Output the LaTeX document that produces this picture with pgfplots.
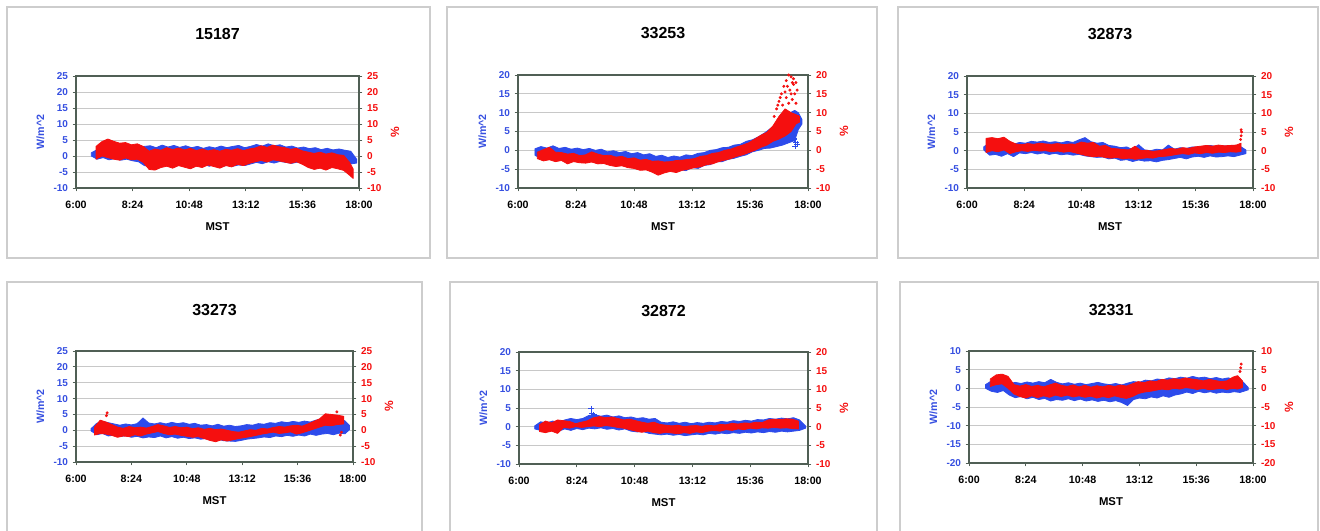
\documentclass[border=0pt]{standalone}
\usepackage{fontspec}
\setmainfont{Liberation Sans}
\usepackage{pgfplots}
\pgfplotsset{compat=1.18}
\definecolor{bluec}{RGB}{45,75,235}
\definecolor{bluet}{RGB}{55,80,225}
\definecolor{redc}{RGB}{245,15,15}
\definecolor{framec}{RGB}{80,95,85}
\definecolor{gridc}{RGB}{200,200,200}
\definecolor{boxc}{RGB}{205,205,205}
\pgfplotsset{
  panelbase/.style={scale only axis, xmin=6, xmax=18, ytick distance=5, tick align=outside, major tick length=2.5pt,
    /pgf/number format/assume math mode=true, axis line style={draw=framec, line width=1pt},
    every tick/.append style={draw=framec, line width=0.6pt}},
  leftpanel/.style={panelbase, tick pos=left, xtick={6,8.4,10.8,13.2,15.6,18},
    xticklabels={6:00,8:24,10:48,13:12,15:36,18:00}, ymajorgrids, grid style={draw=gridc, line width=0.7pt},
    xticklabel style={font=\bfseries\fontsize{8}{9}\selectfont, text=black}, xticklabel shift=3.5pt,
    yticklabel style={font=\bfseries\fontsize{7.5}{9}\selectfont, text=bluet},
    xlabel={MST}, xlabel style={font=\bfseries\fontsize{8.5}{10}\selectfont, at={(axis description cs:0.5,0)}, anchor=base, yshift=-31.5pt},
    ylabel={W/m\textasciicircum 2}, ylabel style={font=\bfseries\fontsize{8}{10}\selectfont, text=bluet},
    title style={font=\bfseries\fontsize{12}{14}\selectfont, at={(0.5,1)}, anchor=base, yshift=21pt}},
  rightpanel/.style={panelbase, axis y line*=right, axis x line=none,
    yticklabel style={font=\bfseries\fontsize{7.5}{9}\selectfont, text=redc},
    ylabel={\%}, ylabel style={font=\bfseries\fontsize{9}{10}\selectfont, text=redc}},
  bluband/.style={draw=bluec, fill=bluec, line width=0.6pt, line join=round},
  redband/.style={draw=redc, fill=redc, line width=0.6pt, line join=round},
  reddots/.style={only marks, mark=*, mark size=0.9pt, color=redc},
  bluplus/.style={only marks, mark=+, mark size=2.2pt, color=bluec, line width=0.8pt},
}
\begin{document}
\begin{tikzpicture}
\path[use as bounding box] (0,0) rectangle (990pt,-398.25pt);
\fill[white] (0,0) rectangle (990pt,-398.25pt);
\draw[boxc, line width=0.8pt] (5.25pt,-5.25pt) rectangle (322.5pt,-193.5pt);
\draw[boxc, line width=0.8pt] (335.25pt,-5.25pt) rectangle (657.75pt,-193.5pt);
\draw[boxc, line width=0.8pt] (673.5pt,-5.25pt) rectangle (988.5pt,-193.5pt);
\draw[boxc, line width=0.8pt] (5.25pt,-211.5pt) rectangle (316.5pt,-405pt);
\draw[boxc, line width=0.8pt] (337.5pt,-211.5pt) rectangle (657.75pt,-405pt);
\draw[boxc, line width=0.8pt] (675pt,-211.5pt) rectangle (988.5pt,-405pt);

% ---------------- Panel 1: 15187
\begin{axis}[leftpanel, at={(57pt,-57pt)}, anchor=north west, width=212.25pt, height=84pt, ymin=-10, ymax=25, title={15187}]
\addplot[bluband] coordinates {(6.65,1.0)(6.9,2.0)(7.15,2.5)(7.4,2.2)(7.65,2.0)(7.9,1.8)(8.15,2.0)(8.4,1.5)(8.65,2.0)(8.9,3.0)(9.15,3.2)(9.4,2.6)(9.65,3.4)(9.9,2.8)(10.15,3.3)(10.4,2.7)(10.65,3.2)(10.9,2.6)(11.15,3.0)(11.4,2.4)(11.65,2.9)(11.9,2.5)(12.15,3.1)(12.4,2.6)(12.65,3.0)(12.9,3.3)(13.15,2.6)(13.4,3.0)(13.65,3.6)(13.9,3.1)(14.15,3.8)(14.4,3.2)(14.65,3.5)(14.9,2.8)(15.15,3.1)(15.4,2.5)(15.65,2.8)(15.9,2.3)(16.15,2.6)(16.4,2.0)(16.65,2.4)(16.9,1.9)(17.15,2.2)(17.4,1.8)(17.65,1.5)(17.9,-1.0)
(17.9,-2.2)(17.65,-2.5)(17.4,-3.0)(17.15,-2.7)(16.9,-3.1)(16.65,-2.6)(16.4,-3.0)(16.15,-2.4)(15.9,-2.8)(15.65,-2.5)(15.4,-1.9)(15.15,-2.3)(14.9,-2.0)(14.65,-1.7)(14.4,-2.2)(14.15,-1.8)(13.9,-2.4)(13.65,-2.0)(13.4,-2.5)(13.15,-3.0)(12.9,-2.8)(12.65,-3.2)(12.4,-2.9)(12.15,-3.4)(11.9,-2.7)(11.65,-3.2)(11.4,-2.5)(11.15,-3.0)(10.9,-2.6)(10.65,-3.3)(10.4,-2.8)(10.15,-3.1)(9.9,-2.4)(9.65,-3.0)(9.4,-2.6)(9.15,-3.3)(8.9,-3.0)(8.65,-1.8)(8.4,-1.5)(8.15,-1.0)(7.9,-1.3)(7.65,-0.8)(7.4,-1.2)(7.15,-0.5)(6.9,-1.0)(6.65,0.0)} -- cycle;
\end{axis}
\begin{axis}[rightpanel, at={(57pt,-57pt)}, anchor=north west, width=212.25pt, height=84pt, ymin=-10, ymax=25]
\addplot[redband] coordinates {(6.85,3.0)(7.1,4.5)(7.35,5.3)(7.6,4.6)(7.85,4.0)(8.1,4.2)(8.35,3.5)(8.6,3.8)(8.85,3.0)(9.1,1.5)(9.35,2.2)(9.6,1.8)(9.85,2.6)(10.1,2.0)(10.35,2.5)(10.6,1.9)(10.85,2.4)(11.1,1.7)(11.35,2.2)(11.6,1.6)(11.85,2.0)(12.1,1.5)(12.35,2.1)(12.6,1.8)(12.85,2.3)(13.1,1.7)(13.35,2.2)(13.6,2.5)(13.85,3.2)(14.1,2.7)(14.35,3.4)(14.6,2.9)(14.85,2.6)(15.1,2.1)(15.35,2.4)(15.6,1.6)(15.85,1.2)(16.1,0.8)(16.35,1.2)(16.6,0.6)(16.85,1.0)(17.1,0.4)(17.35,0.2)(17.6,-2.0)(17.75,-4.0)
(17.75,-7.0)(17.6,-6.0)(17.35,-4.5)(17.1,-4.0)(16.85,-3.6)(16.6,-4.4)(16.35,-3.8)(16.1,-4.2)(15.85,-3.6)(15.6,-2.6)(15.35,-1.8)(15.1,-2.3)(14.85,-1.9)(14.6,-1.5)(14.35,-1.2)(14.1,-1.9)(13.85,-1.4)(13.6,-1.8)(13.35,-2.3)(13.1,-3.0)(12.85,-2.6)(12.6,-3.4)(12.35,-3.0)(12.1,-3.8)(11.85,-3.3)(11.6,-2.8)(11.35,-3.6)(11.1,-3.2)(10.85,-4.0)(10.6,-3.5)(10.35,-3.0)(10.1,-3.8)(9.85,-3.2)(9.6,-3.6)(9.35,-4.4)(9.1,-4.2)(8.85,-2.0)(8.6,-1.0)(8.35,-1.2)(8.1,-0.6)(7.85,-1.3)(7.6,-1.0)(7.35,-0.5)(7.1,0.0)(6.85,-1.0)} -- cycle;
\end{axis}

% ---------------- Panel 2: 33253
\begin{axis}[leftpanel, at={(388.5pt,-56.25pt)}, anchor=north west, width=217.5pt, height=84.75pt, ymin=-10, ymax=20, title={33253}]
\addplot[bluband] coordinates {(6.7,0.4)(6.95,1.0)(7.2,0.6)(7.45,1.2)(7.7,0.5)(7.95,0.8)(8.2,0.3)(8.45,0.6)(8.7,0.2)(8.95,0.5)(9.2,0.0)(9.45,0.3)(9.7,-0.4)(9.95,-0.1)(10.2,-0.6)(10.45,-0.3)(10.7,-0.9)(10.95,-0.6)(11.2,-1.2)(11.45,-0.9)(11.7,-1.6)(11.95,-1.3)(12.2,-1.9)(12.45,-1.5)(12.7,-1.8)(12.95,-1.2)(13.2,-1.4)(13.45,-0.8)(13.7,-0.6)(13.95,0.0)(14.2,0.2)(14.45,0.7)(14.7,0.8)(14.95,1.4)(15.2,1.6)(15.45,2.4)(15.7,2.8)(15.95,3.6)(16.2,4.6)(16.45,5.8)(16.7,7.0)(16.95,8.6)(17.2,9.8)(17.45,10.6)(17.6,10.0)(17.75,8.2)
(17.75,7.0)(17.6,5.5)(17.45,2.6)(17.2,2.0)(16.95,1.4)(16.7,1.0)(16.45,0.6)(16.2,0.5)(15.95,0.0)(15.7,-0.4)(15.45,-1.2)(15.2,-1.6)(14.95,-2.1)(14.7,-2.4)(14.45,-3.0)(14.2,-3.0)(13.95,-3.8)(13.7,-4.0)(13.45,-4.8)(13.2,-4.6)(12.95,-5.4)(12.7,-5.1)(12.45,-5.6)(12.2,-5.0)(11.95,-5.4)(11.7,-4.8)(11.45,-5.0)(11.2,-4.4)(10.95,-4.6)(10.7,-4.0)(10.45,-4.1)(10.2,-3.5)(9.95,-3.7)(9.7,-3.2)(9.45,-3.4)(9.2,-2.8)(8.95,-3.0)(8.7,-2.6)(8.45,-2.9)(8.2,-2.4)(7.95,-2.8)(7.7,-2.2)(7.45,-2.6)(7.2,-2.0)(6.95,-2.2)(6.7,-1.3)} -- cycle;
\addplot[bluplus] coordinates {(17.47,1.0)(17.5,2.2)(17.55,1.6)(17.44,3.0)};
\end{axis}
\begin{axis}[rightpanel, at={(388.5pt,-56.25pt)}, anchor=north west, width=217.5pt, height=84.75pt, ymin=-10, ymax=20]
\addplot[redband] coordinates {(6.8,-0.5)(7.05,0.2)(7.3,0.8)(7.55,-0.5)(7.8,-0.6)(8.05,-1.0)(8.3,-0.8)(8.55,-1.4)(8.8,-1.2)(9.05,-0.4)(9.3,-1.0)(9.55,-1.4)(9.8,-1.3)(10.05,-1.8)(10.3,-1.6)(10.55,-2.2)(10.8,-2.0)(11.05,-2.6)(11.3,-2.4)(11.55,-2.9)(11.8,-2.8)(12.05,-3.1)(12.3,-3.0)(12.55,-2.7)(12.8,-2.6)(13.05,-2.4)(13.3,-2.2)(13.55,-1.6)(13.8,-1.4)(14.05,-0.8)(14.3,-0.6)(14.55,0.0)(14.8,0.3)(15.05,0.9)(15.3,1.4)(15.55,2.0)(15.8,3.0)(16.05,4.0)(16.3,4.8)(16.55,6.5)(16.8,9.0)(17.05,11.0)(17.3,10.0)(17.5,9.5)(17.65,8.8)
(17.65,7.5)(17.5,7.0)(17.3,5.0)(17.05,3.8)(16.8,3.0)(16.55,2.4)(16.3,1.4)(16.05,0.8)(15.8,0.0)(15.55,-0.6)(15.3,-1.2)(15.05,-1.6)(14.8,-2.2)(14.55,-2.6)(14.3,-3.0)(14.05,-3.6)(13.8,-3.8)(13.55,-4.4)(13.3,-4.6)(13.05,-5.0)(12.8,-5.3)(12.55,-5.9)(12.3,-5.6)(12.05,-6.0)(11.8,-6.6)(11.55,-5.8)(11.3,-5.2)(11.05,-5.3)(10.8,-4.8)(10.55,-4.6)(10.3,-4.1)(10.05,-4.3)(9.8,-4.0)(9.55,-3.5)(9.3,-3.6)(9.05,-3.1)(8.8,-3.4)(8.55,-3.3)(8.3,-3.0)(8.05,-3.6)(7.8,-2.7)(7.55,-3.0)(7.3,-2.5)(7.05,-2.8)(6.8,-2.2)} -- cycle;
\addplot[reddots] coordinates {(16.6,9.0)(16.7,11.0)(16.75,12.0)(16.8,13.0)(16.85,14.0)(16.9,15.0)(17.0,17.0)(17.05,15.5)(17.1,18.5)(17.15,17.0)(17.2,20.0)(17.3,19.5)(17.25,16.0)(17.4,17.5)(17.5,18.0)(17.55,16.0)(17.2,12.5)(17.35,13.5)(17.45,15.0)(17.5,12.5)(17.3,15.0)(16.95,12.0)(17.1,14.0)(17.6,9.0)(17.4,19.0)(17.35,18.0)};
\end{axis}

% ---------------- Panel 3: 32873
\begin{axis}[leftpanel, at={(725.25pt,-57pt)}, anchor=north west, width=214.5pt, height=84pt, ymin=-10, ymax=20, title={32873}]
\addplot[bluband] coordinates {(6.7,1.0)(6.95,2.2)(7.2,1.8)(7.45,1.6)(7.7,1.9)(7.95,1.7)(8.2,2.2)(8.45,2.0)(8.7,2.5)(8.95,2.3)(9.2,2.6)(9.45,2.2)(9.7,2.4)(9.95,2.1)(10.2,2.5)(10.45,2.2)(10.7,2.9)(10.95,3.5)(11.2,2.4)(11.45,2.0)(11.7,2.2)(11.95,1.4)(12.2,1.2)(12.45,0.8)(12.7,1.0)(12.95,0.3)(13.2,1.6)(13.45,0.2)(13.7,0.0)(13.95,0.4)(14.2,0.2)(14.45,1.5)(14.7,0.4)(14.95,0.8)(15.2,0.6)(15.45,1.0)(15.7,0.9)(15.95,1.2)(16.2,1.4)(16.45,1.1)(16.7,1.3)(16.95,1.2)(17.2,1.4)(17.45,1.2)(17.7,0.2)
(17.7,-0.8)(17.45,-1.2)(17.2,-1.6)(16.95,-1.4)(16.7,-1.6)(16.45,-1.7)(16.2,-1.4)(15.95,-1.8)(15.7,-1.5)(15.45,-1.7)(15.2,-2.2)(14.95,-1.8)(14.7,-2.1)(14.45,-2.4)(14.2,-2.6)(13.95,-3.0)(13.7,-2.7)(13.45,-2.8)(13.2,-2.5)(12.95,-2.9)(12.7,-2.4)(12.45,-2.6)(12.2,-2.0)(11.95,-2.2)(11.7,-1.7)(11.45,-1.8)(11.2,-1.6)(10.95,-1.4)(10.7,-1.0)(10.45,-1.2)(10.2,-0.9)(9.95,-1.1)(9.7,-0.7)(9.45,-1.0)(9.2,-0.6)(8.95,-0.9)(8.7,-0.5)(8.45,-0.8)(8.2,-0.6)(7.95,-1.6)(7.7,-0.8)(7.45,-1.5)(7.2,-1.0)(6.95,-1.2)(6.7,0.2)} -- cycle;
\end{axis}
\begin{axis}[rightpanel, at={(725.25pt,-57pt)}, anchor=north west, width=214.5pt, height=84pt, ymin=-10, ymax=20]
\addplot[redband] coordinates {(6.8,3.3)(7.05,3.5)(7.3,3.2)(7.55,3.6)(7.8,2.5)(8.05,1.8)(8.3,1.6)(8.55,1.9)(8.8,1.7)(9.05,2.0)(9.3,1.8)(9.55,1.7)(9.8,1.9)(10.05,1.6)(10.3,1.8)(10.55,1.7)(10.8,2.3)(11.05,2.0)(11.3,2.2)(11.55,1.2)(11.8,1.4)(12.05,0.6)(12.3,0.5)(12.55,0.3)(12.8,0.2)(13.05,1.2)(13.3,0.0)(13.55,0.1)(13.8,-0.2)(14.05,0.0)(14.3,0.3)(14.55,0.6)(14.8,0.4)(15.05,0.8)(15.3,0.6)(15.55,1.0)(15.8,1.2)(16.05,1.4)(16.3,1.2)(16.55,1.5)(16.8,1.3)(17.05,1.4)(17.3,1.5)(17.5,2.0)
(17.5,-0.2)(17.3,-0.4)(17.05,-0.3)(16.8,-0.5)(16.55,-0.4)(16.3,-0.7)(16.05,-0.5)(15.8,-0.8)(15.55,-0.6)(15.3,-1.0)(15.05,-0.8)(14.8,-1.0)(14.55,-1.3)(14.3,-1.5)(14.05,-1.6)(13.8,-2.0)(13.55,-1.9)(13.3,-2.1)(13.05,-2.3)(12.8,-2.0)(12.55,-2.2)(12.3,-1.8)(12.05,-2.0)(11.8,-1.8)(11.55,-1.5)(11.3,-1.6)(11.05,-1.4)(10.8,-1.0)(10.55,-0.6)(10.3,-0.2)(10.05,-0.4)(9.8,-0.1)(9.55,-0.3)(9.3,0.0)(9.05,-0.1)(8.8,0.1)(8.55,-0.2)(8.3,0.0)(8.05,-0.3)(7.8,-0.8)(7.55,0.2)(7.3,-0.3)(7.05,0.0)(6.8,-0.5)} -- cycle;
\addplot[reddots] coordinates {(17.48,3.0)(17.5,4.0)(17.52,5.0)(17.5,5.6)};
\end{axis}

% ---------------- Panel 4: 33273
\begin{axis}[leftpanel, at={(57pt,-263.25pt)}, anchor=north west, width=207.75pt, height=83.25pt, ymin=-10, ymax=25, title={33273}]
\addplot[bluband] coordinates {(6.65,0.5)(6.9,2.2)(7.15,2.8)(7.4,2.4)(7.65,2.0)(7.9,1.6)(8.15,2.0)(8.4,1.7)(8.65,2.1)(8.9,3.9)(9.15,2.3)(9.4,2.0)(9.65,2.4)(9.9,2.0)(10.15,2.5)(10.4,2.1)(10.65,2.4)(10.9,1.9)(11.15,2.2)(11.4,1.6)(11.65,1.8)(11.9,1.4)(12.15,1.9)(12.4,1.3)(12.65,1.6)(12.9,1.2)(13.15,1.4)(13.4,1.8)(13.65,1.6)(13.9,2.1)(14.15,1.9)(14.4,2.4)(14.65,2.2)(14.9,2.7)(15.15,2.4)(15.4,2.8)(15.65,2.5)(15.9,2.9)(16.15,2.6)(16.4,3.2)(16.65,3.6)(16.9,3.2)(17.15,3.8)(17.4,3.4)(17.65,3.0)(17.85,1.5)
(17.85,0.2)(17.65,-1.1)(17.4,-0.9)(17.15,-1.4)(16.9,-1.0)(16.65,-1.2)(16.4,-1.6)(16.15,-1.2)(15.9,-1.8)(15.65,-1.5)(15.4,-1.9)(15.15,-1.6)(14.9,-2.0)(14.65,-1.8)(14.4,-2.3)(14.15,-2.1)(13.9,-2.4)(13.65,-2.6)(13.4,-2.8)(13.15,-3.2)(12.9,-3.5)(12.65,-3.4)(12.4,-3.3)(12.15,-2.8)(11.9,-3.0)(11.65,-2.6)(11.4,-2.8)(11.15,-2.4)(10.9,-2.6)(10.65,-2.2)(10.4,-2.5)(10.15,-2.0)(9.9,-2.4)(9.65,-1.8)(9.4,-2.3)(9.15,-2.1)(8.9,-2.4)(8.65,-1.9)(8.4,-2.2)(8.15,-1.7)(7.9,-2.0)(7.65,-1.5)(7.4,-1.8)(7.15,-1.0)(6.9,-1.4)(6.65,-0.2)} -- cycle;
\end{axis}
\begin{axis}[rightpanel, at={(57pt,-263.25pt)}, anchor=north west, width=207.75pt, height=83.25pt, ymin=-10, ymax=25]
\addplot[redband] coordinates {(6.8,1.0)(7.05,3.2)(7.3,2.6)(7.55,1.8)(7.8,1.0)(8.05,0.6)(8.3,1.2)(8.55,0.8)(8.8,1.0)(9.05,0.7)(9.3,1.2)(9.55,1.8)(9.8,1.4)(10.05,0.9)(10.3,1.2)(10.55,0.8)(10.8,1.0)(11.05,0.5)(11.3,0.8)(11.55,0.3)(11.8,0.6)(12.05,0.2)(12.3,0.4)(12.55,0.0)(12.8,-0.4)(13.05,-0.6)(13.3,-0.2)(13.55,0.2)(13.8,0.0)(14.05,0.6)(14.3,0.4)(14.55,0.9)(14.8,1.2)(15.05,1.0)(15.3,1.4)(15.55,1.6)(15.8,1.3)(16.05,2.0)(16.3,2.8)(16.55,3.6)(16.8,5.2)(17.05,5.0)(17.3,4.8)(17.6,4.4)
(17.6,2.0)(17.3,1.8)(17.05,1.4)(16.8,1.6)(16.55,1.0)(16.3,0.4)(16.05,-0.2)(15.8,-0.8)(15.55,-1.2)(15.3,-0.5)(15.05,-0.8)(14.8,-1.0)(14.55,-0.6)(14.3,-0.9)(14.05,-1.2)(13.8,-1.6)(13.55,-2.0)(13.3,-2.3)(13.05,-2.6)(12.8,-3.0)(12.55,-3.4)(12.3,-3.0)(12.05,-3.6)(11.8,-3.2)(11.55,-2.6)(11.3,-2.0)(11.05,-2.2)(10.8,-1.9)(10.55,-1.6)(10.3,-1.2)(10.05,-1.4)(9.8,-1.0)(9.55,-0.4)(9.3,-0.8)(9.05,-1.2)(8.8,-1.8)(8.55,-1.4)(8.3,-2.0)(8.05,-1.8)(7.8,-2.2)(7.55,-1.6)(7.3,-1.2)(7.05,-1.0)(6.8,-1.5)} -- cycle;
\addplot[reddots] coordinates {(7.35,5.5)(7.32,4.6)(17.45,-1.5)(17.5,-0.6)(17.3,5.8)};
\end{axis}

% ---------------- Panel 5: 32872
\begin{axis}[leftpanel, at={(389.25pt,-264pt)}, anchor=north west, width=216.75pt, height=84pt, ymin=-10, ymax=20, title={32872}]
\addplot[bluband] coordinates {(6.65,0.2)(6.9,1.3)(7.15,1.0)(7.4,1.5)(7.65,1.2)(7.9,1.8)(8.15,2.2)(8.4,1.9)(8.65,2.2)(8.9,3.0)(9.15,3.2)(9.4,2.8)(9.65,3.1)(9.9,2.6)(10.15,2.9)(10.4,2.4)(10.65,2.6)(10.9,2.2)(11.15,2.4)(11.4,2.0)(11.65,2.2)(11.9,1.2)(12.15,1.0)(12.4,1.3)(12.65,0.9)(12.9,1.2)(13.15,0.8)(13.4,1.1)(13.65,0.9)(13.9,1.2)(14.15,1.0)(14.4,1.4)(14.65,1.2)(14.9,1.6)(15.15,1.4)(15.4,1.7)(15.65,1.5)(15.9,1.9)(16.15,1.8)(16.4,2.2)(16.65,2.0)(16.9,2.3)(17.15,2.1)(17.4,2.4)(17.65,1.8)(17.9,0.2)
(17.9,-0.4)(17.65,-1.0)(17.4,-1.2)(17.15,-1.4)(16.9,-1.2)(16.65,-1.5)(16.4,-1.3)(16.15,-1.6)(15.9,-1.4)(15.65,-1.7)(15.4,-1.5)(15.15,-1.8)(14.9,-1.6)(14.65,-1.9)(14.4,-1.7)(14.15,-2.0)(13.9,-1.8)(13.65,-2.2)(13.4,-2.0)(13.15,-2.2)(12.9,-2.4)(12.65,-2.1)(12.4,-2.3)(12.15,-2.0)(11.9,-2.2)(11.65,-2.0)(11.4,-1.8)(11.15,-1.3)(10.9,-1.4)(10.65,-1.2)(10.4,-0.6)(10.15,-0.9)(9.9,-0.5)(9.65,-0.7)(9.4,-0.3)(9.15,-0.6)(8.9,-0.4)(8.65,-0.8)(8.4,-0.5)(8.15,-1.0)(7.9,-0.6)(7.65,-1.2)(7.4,-0.8)(7.15,-1.3)(6.9,-1.0)(6.65,-0.6)} -- cycle;
\addplot[bluplus] coordinates {(9.0,4.8)(9.02,3.6)(9.05,2.8)(9.1,3.2)};
\end{axis}
\begin{axis}[rightpanel, at={(389.25pt,-264pt)}, anchor=north west, width=216.75pt, height=84pt, ymin=-10, ymax=20]
\addplot[redband] coordinates {(6.85,0.5)(7.1,1.5)(7.35,1.0)(7.6,1.8)(7.85,1.6)(8.1,1.4)(8.35,0.8)(8.6,1.2)(8.85,1.6)(9.1,2.4)(9.35,2.7)(9.6,2.4)(9.85,2.6)(10.1,2.2)(10.35,1.8)(10.6,2.0)(10.85,1.6)(11.1,1.2)(11.35,0.9)(11.6,1.2)(11.85,0.6)(12.1,0.4)(12.35,0.2)(12.6,0.4)(12.85,0.0)(13.1,0.2)(13.35,0.3)(13.6,0.1)(13.85,0.4)(14.1,0.2)(14.35,0.6)(14.6,0.5)(14.85,0.9)(15.1,0.7)(15.35,1.0)(15.6,0.9)(15.85,1.2)(16.1,1.1)(16.35,1.8)(16.6,2.0)(16.85,1.9)(17.1,2.1)(17.35,2.0)(17.6,1.5)
(17.6,-0.6)(17.35,-0.5)(17.1,-0.3)(16.85,-0.4)(16.6,-0.2)(16.35,-0.4)(16.1,-0.3)(15.85,-0.6)(15.6,-0.4)(15.35,-0.8)(15.1,-0.6)(14.85,-1.0)(14.6,-0.8)(14.35,-1.2)(14.1,-1.0)(13.85,-1.2)(13.6,-1.6)(13.35,-1.4)(13.1,-1.8)(12.85,-1.6)(12.6,-1.9)(12.35,-1.7)(12.1,-1.5)(11.85,-1.8)(11.6,-1.6)(11.35,-1.2)(11.1,-1.5)(10.85,-1.2)(10.6,-0.8)(10.35,-0.4)(10.1,-0.2)(9.85,0.1)(9.6,0.3)(9.35,0.0)(9.1,0.2)(8.85,0.0)(8.6,-0.2)(8.35,0.0)(8.1,-0.4)(7.85,-0.2)(7.6,-1.8)(7.35,-1.2)(7.1,-1.6)(6.85,-1.3)} -- cycle;
\end{axis}

% ---------------- Panel 6: 32331
\begin{axis}[leftpanel, at={(726.75pt,-263.25pt)}, anchor=north west, width=213pt, height=84pt, ymin=-20, ymax=10, title={32331}]
\addplot[bluband] coordinates {(6.7,1.0)(6.95,2.0)(7.2,2.4)(7.45,1.8)(7.7,1.2)(7.95,1.6)(8.2,1.3)(8.45,1.7)(8.7,1.4)(8.95,1.8)(9.2,1.5)(9.45,2.4)(9.7,1.6)(9.95,1.2)(10.2,1.5)(10.45,1.1)(10.7,1.4)(10.95,1.0)(11.2,1.3)(11.45,1.6)(11.7,1.2)(11.95,1.0)(12.2,1.3)(12.45,0.9)(12.7,1.4)(12.95,1.8)(13.2,1.6)(13.45,2.2)(13.7,2.0)(13.95,2.5)(14.2,2.3)(14.45,2.8)(14.7,2.6)(14.95,3.0)(15.2,2.7)(15.45,3.2)(15.7,2.8)(15.95,3.0)(16.2,2.6)(16.45,2.9)(16.7,2.5)(16.95,2.8)(17.2,2.4)(17.45,2.6)(17.8,0.2)
(17.8,-0.4)(17.45,-1.1)(17.2,-0.9)(16.95,-1.2)(16.7,-1.0)(16.45,-1.3)(16.2,-0.9)(15.95,-1.2)(15.7,-0.8)(15.45,-1.4)(15.2,-1.0)(14.95,-1.5)(14.7,-1.8)(14.45,-2.4)(14.2,-2.0)(13.95,-2.6)(13.7,-2.3)(13.45,-2.8)(13.2,-2.6)(12.95,-3.0)(12.7,-4.6)(12.45,-3.8)(12.2,-3.3)(11.95,-3.6)(11.7,-3.2)(11.45,-3.5)(11.2,-3.1)(10.95,-3.4)(10.7,-2.9)(10.45,-3.3)(10.2,-2.8)(9.95,-3.2)(9.7,-3.0)(9.45,-3.4)(9.2,-2.7)(8.95,-3.0)(8.7,-2.4)(8.45,-2.8)(8.2,-2.2)(7.95,-2.5)(7.7,-1.8)(7.45,-0.6)(7.2,-1.1)(6.95,-0.8)(6.7,0.0)} -- cycle;
\end{axis}
\begin{axis}[rightpanel, at={(726.75pt,-263.25pt)}, anchor=north west, width=213pt, height=84pt, ymin=-20, ymax=10]
\addplot[redband] coordinates {(6.9,2.5)(7.15,3.6)(7.4,3.8)(7.65,3.2)(7.9,1.0)(8.15,0.6)(8.4,1.0)(8.65,0.5)(8.9,0.8)(9.15,0.4)(9.4,0.9)(9.65,1.4)(9.9,0.8)(10.15,0.5)(10.4,0.9)(10.65,0.4)(10.9,0.8)(11.15,0.3)(11.4,0.7)(11.65,0.4)(11.9,0.8)(12.15,0.5)(12.4,0.9)(12.65,0.6)(12.9,1.2)(13.15,1.8)(13.4,1.5)(13.65,2.0)(13.9,1.8)(14.15,2.4)(14.4,2.2)(14.65,2.6)(14.9,2.4)(15.15,2.8)(15.4,2.5)(15.65,2.3)(15.9,2.0)(16.15,2.4)(16.4,2.1)(16.65,1.8)(16.9,2.0)(17.15,3.0)(17.35,3.4)(17.55,2.0)
(17.55,0.2)(17.35,-0.2)(17.15,0.0)(16.9,-0.3)(16.65,0.0)(16.4,-0.2)(16.15,-0.4)(15.9,0.0)(15.65,-0.3)(15.4,0.0)(15.15,0.2)(14.9,-0.2)(14.65,0.0)(14.4,-0.4)(14.15,-0.2)(13.9,-0.5)(13.65,-0.8)(13.4,-1.0)(13.15,-1.4)(12.9,-2.2)(12.65,-2.7)(12.4,-2.4)(12.15,-2.0)(11.9,-2.5)(11.65,-2.2)(11.4,-2.6)(11.15,-2.1)(10.9,-2.4)(10.65,-2.0)(10.4,-2.3)(10.15,-1.8)(9.9,-2.2)(9.65,-1.8)(9.4,-2.4)(9.15,-2.0)(8.9,-2.5)(8.65,-2.0)(8.4,-2.6)(8.15,-2.2)(7.9,-1.5)(7.65,0.0)(7.4,1.2)(7.15,1.0)(6.9,0.5)} -- cycle;
\addplot[reddots] coordinates {(17.45,4.5)(17.48,5.5)(17.5,6.5)};
\end{axis}
\end{tikzpicture}
\end{document}
